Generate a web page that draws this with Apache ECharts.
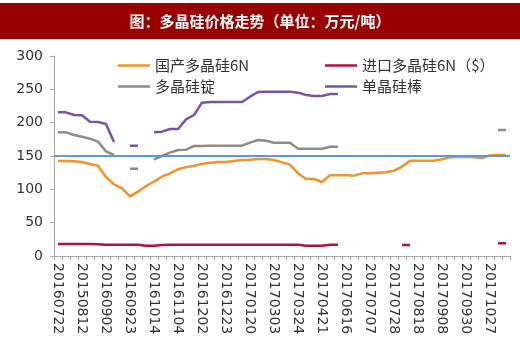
<!DOCTYPE html>
<html>
<head>
<meta charset="utf-8">
<script src="https://cdn.jsdelivr.net/npm/echarts@6/dist/echarts.min.js"></script>
<style>html,body{margin:0;padding:0;background:#fff;}#c{width:520px;height:341px;}</style>
</head>
<body>
<div id="c"></div>
<script>
var categories = ['20160722','20160729','20160805','20150812','20160819','20160826','20160902','20160909','20160916','20160923',
'20160930','20161007','20161014','20161021','20161028','20161104','20161111','20161118','20161202','20161209',
'20161216','20161223','20161230','20170106','20170120','20170210','20170224','20170303','20170310','20170317',
'20170324','20170331','20170407','20170421','20170428','20170505','20170616','20170623','20170630','20170707',
'20170714','20170721','20170728','20170804','20170811','20170818','20170825','20170901','20170908','20170915',
'20170922','20170930','20171013','20171020','20171027','20171103','20171110'];
var domestic6N = [142.5,142.5,142,141,138,135.5,118.5,107.5,101.5,89.5,
96.5,105,111.5,119,124,130,133,135.5,138,140,
141,141,142.5,144,144.5,145.5,145.5,144,140.5,137,
124,115.5,115.5,111,121,121,121.5,120.5,124,124,
125,125.5,128,134,143,143,143,143,145,148,
148.5,148.5,148,147,151,151.5,151.5];
var import6N = [18,18,18,18,18,17.5,17,17,17,17,
17,15.5,15.5,16.5,17,17,17,17,17,17,
17,17,17,17,17,17,17,17,17,17,
17,15.5,15.5,15.5,17,17,null,null,null,null,
null,null,null,16.5,16.5,null,null,null,null,null,
null,null,null,null,null,19,19];
var ingot = [185.5,185.5,181.5,179,176,171.5,157,151.5,null,131,
131,null,145,150,155,159,159.5,165,165,165.5,
165.5,165.5,165.5,165.5,170,174,173,170,170,170,
161,161,161,161,164,164,null,null,null,null,
null,null,null,null,null,null,null,null,null,null,
null,null,null,null,null,189,189];
var monoRod = [215.5,215.5,211.5,211,201.5,201,198,171,null,165.5,
165.5,null,185.5,186.5,190.5,190.5,205,211.5,230,231,
231,231,231,231,239,246,246.5,246.5,246.5,246.5,
245,241.5,240,240,243,243,null,null,null,null,
null,null,null,null,null,null,null,null,null,null,
null,null,null,null,null,null,null];
var refLine = 150;
var yTicks = {min:0, max:300, interval:50};
var titleText = '图：多晶硅价格走势（单位：万元/吨）';

var chart = echarts.init(document.getElementById('c'), null, {renderer:'canvas'});
function lineSeries(name, data, color){
  return {name:name, type:'line', data:data, symbol:'none', showSymbol:false, connectNulls:false,
    lineStyle:{color:color, width:2.5}, itemStyle:{color:color}, z:3};
}
var legendText = {fontSize:15, lineHeight:15, color:'#333', fontFamily:'"Noto Sans CJK SC", sans-serif'};
chart.setOption({
  animation:false,
  backgroundColor:'#fff',
  graphic:[
    {type:'rect', shape:{x:0,y:3,width:520,height:36}, style:{fill:'#990000'}, z:10},
    {type:'text', x:260, y:21, z:11, style:{text:titleText, fill:'#fff', fontSize:15, fontWeight:'bold',
      fontFamily:'"Noto Sans CJK SC", sans-serif', align:'center', verticalAlign:'middle'}}
  ],
  grid:{left:54, right:10, top:56, bottom:85},
  legend:[
    {left:113, top:53, orient:'vertical', icon:'rect', itemWidth:32, itemHeight:2.5, itemGap:6,
      data:['国产多晶硅6N','多晶硅锭'], textStyle:legendText},
    {left:320, top:53, orient:'vertical', icon:'rect', itemWidth:32, itemHeight:2.5, itemGap:6,
      data:['进口多晶硅6N（$）','单晶硅棒'], textStyle:legendText}
  ],
  xAxis:{type:'category', data:categories, boundaryGap:true,
    axisLine:{lineStyle:{color:'#a6a6a6', width:1}},
    axisTick:{show:true, interval:0, length:4, lineStyle:{color:'#a6a6a6'}},
    axisLabel:{interval:2, rotate:-90, margin:7, fontSize:14, color:'#333', fontFamily:'"DejaVu Sans", sans-serif'},
    splitLine:{show:false}},
  yAxis:{type:'value', min:yTicks.min, max:yTicks.max, interval:yTicks.interval,
    axisLine:{show:true, lineStyle:{color:'#a6a6a6', width:1}},
    axisTick:{show:true, length:4, lineStyle:{color:'#a6a6a6'}},
    axisLabel:{margin:11, fontSize:14, color:'#333', fontFamily:'"DejaVu Sans", sans-serif'},
    splitLine:{show:false}},
  series:[
    {name:'参考线', type:'line', data:[], symbol:'none', z:2,
      markLine:{silent:true, symbol:'none', label:{show:false},
        lineStyle:{color:'#5b9bd5', width:2, type:'solid'}, data:[{yAxis:refLine}]}},
    lineSeries('国产多晶硅6N', domestic6N, '#f0932b'),
    lineSeries('进口多晶硅6N（$）', import6N, '#b0123f'),
    lineSeries('多晶硅锭', ingot, '#8c8c8c'),
    lineSeries('单晶硅棒', monoRod, '#7b52a6')
  ]
});
</script>
</body>
</html>
